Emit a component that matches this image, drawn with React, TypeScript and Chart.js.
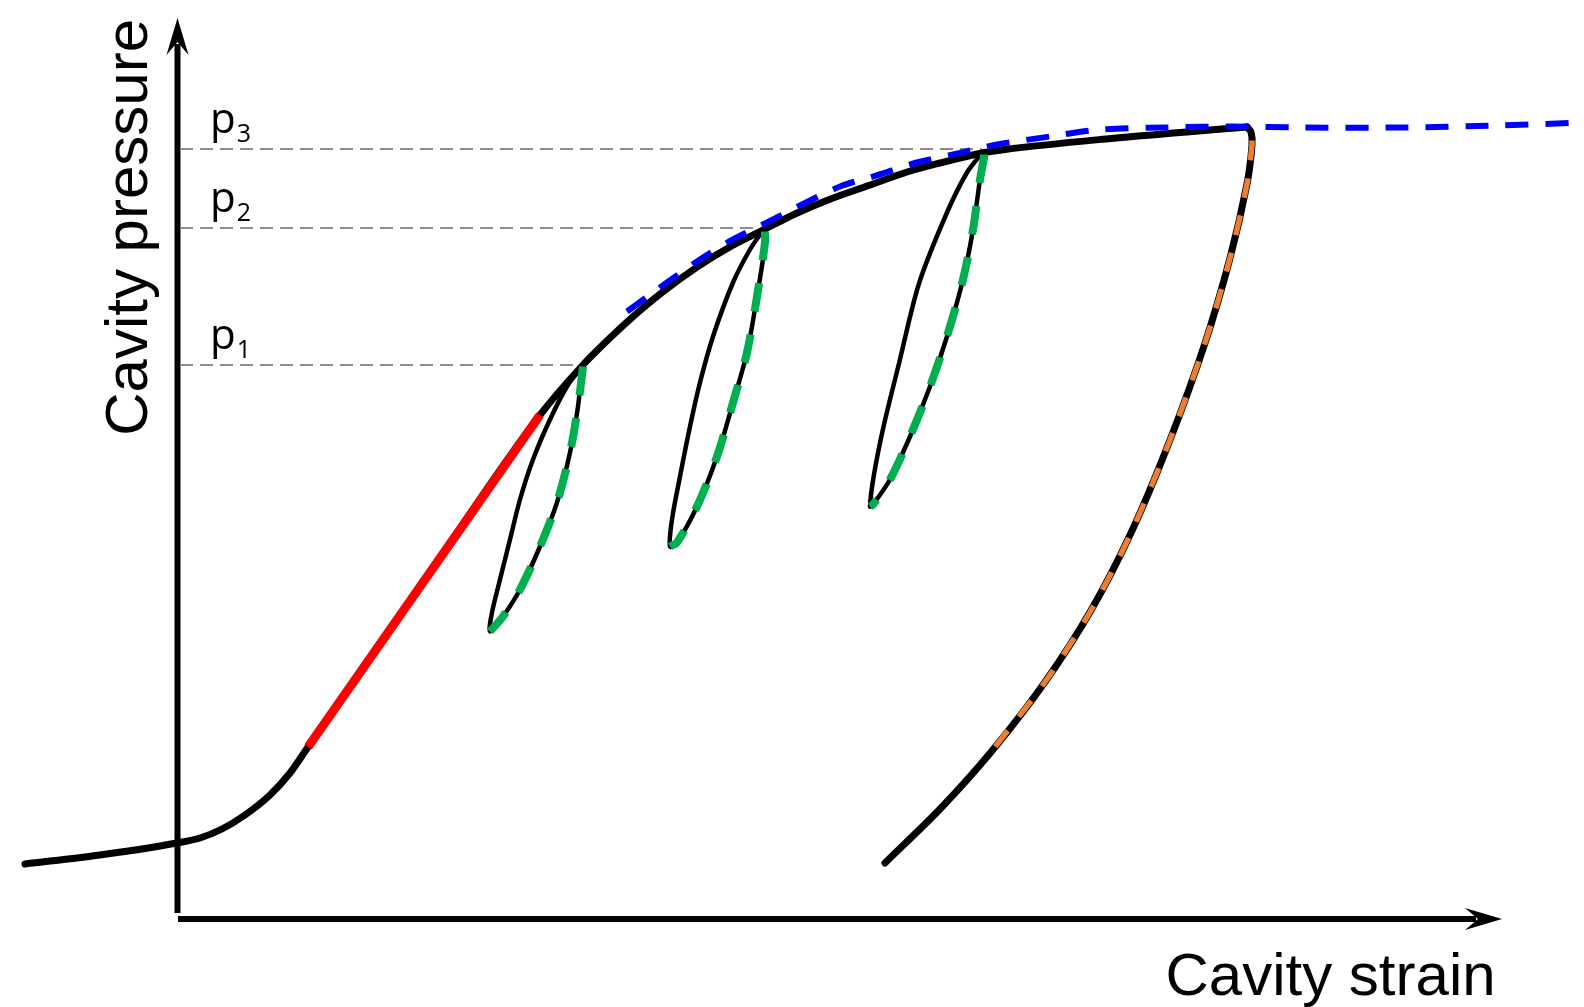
import { useEffect, useRef } from "react";
import { Chart, registerables } from "chart.js";

Chart.register(...registerables);

type Pt = [number, number];

// Cavity strain (x) / cavity pressure (y), arbitrary units
const MAIN_LOADING: Pt[] = [
  [-1.55, 0.525], [-0.8, 0.615], [-0.03, 0.735], [0.2, 0.785], [0.42, 0.875],
  [0.65, 1.015], [0.9, 1.215], [1.1, 1.435], [1.28, 1.695], [2.44, 3.355],
  [3.6, 5.015], [4.02, 5.505], [4.27, 5.757], [4.52, 5.989], [4.82, 6.239],
  [5.17, 6.493], [5.52, 6.707], [5.83, 6.863], [6.15, 7.025], [6.48, 7.165],
  [6.93, 7.325], [7.27, 7.445], [7.6, 7.535], [8.02, 7.635], [8.25, 7.67],
  [9.31, 7.78], [10.67, 7.895],
];

const FINAL_UNLOADING: Pt[] = [
  [10.67, 7.895], [10.71, 7.845], [10.72, 7.715], [10.67, 7.325], [10.495, 6.565],
  [10.247, 5.725], [9.9, 4.765], [9.514, 3.845], [9.112, 3.065], [8.657, 2.355],
  [8.127, 1.665], [7.61, 1.085], [7.05, 0.535],
];

const ELASTIC_FIT: Pt[] = [[1.28, 1.695], [3.6, 5.015]];

const LOOP_1: Pt[] = [
  [4.02, 5.505], [3.98, 5.1], [3.9, 4.64], [3.77, 4.14], [3.6, 3.7],
  [3.4, 3.27], [3.23, 3.0], [3.1, 2.85], [3.12, 3.04], [3.2, 3.37],
  [3.3, 3.77], [3.4, 4.17], [3.53, 4.57], [3.7, 4.97], [3.87, 5.3], [4.02, 5.505],
];
const LOOP_1_FIT: Pt[] = [
  [4.03, 5.5], [3.98, 5.1], [3.9, 4.64], [3.77, 4.14], [3.6, 3.7],
  [3.4, 3.27], [3.23, 3.0], [3.1, 2.85],
];

const LOOP_2: Pt[] = [
  [5.83, 6.863], [5.85, 6.74], [5.77, 6.2], [5.67, 5.64], [5.53, 5.14],
  [5.37, 4.6], [5.17, 4.1], [4.97, 3.74], [4.9, 3.7], [4.92, 3.97],
  [5.0, 4.4], [5.1, 4.9], [5.2, 5.34], [5.33, 5.8], [5.53, 6.34], [5.7, 6.67], [5.83, 6.863],
];
const LOOP_2_FIT: Pt[] = [
  [5.85, 6.85], [5.85, 6.74], [5.77, 6.2], [5.67, 5.64], [5.53, 5.14],
  [5.37, 4.6], [5.17, 4.1], [4.97, 3.74], [4.9, 3.7],
];

const LOOP_3: Pt[] = [
  [8.02, 7.635], [8.04, 7.59], [8.0, 7.37], [7.93, 6.87], [7.83, 6.37],
  [7.67, 5.8], [7.5, 5.3], [7.3, 4.8], [7.1, 4.37], [6.93, 4.12], [6.9, 4.1],
  [6.94, 4.42], [7.04, 4.92], [7.19, 5.53], [7.39, 6.33],
  [7.67, 7.04], [7.87, 7.44], [8.02, 7.635],
];
const LOOP_3_FIT: Pt[] = [
  [8.04, 7.62], [8.04, 7.59], [8.0, 7.37], [7.93, 6.87], [7.83, 6.37],
  [7.67, 5.8], [7.5, 5.3], [7.3, 4.8], [7.1, 4.37], [6.93, 4.12], [6.9, 4.1],
];

const ENVELOPE: Pt[] = [
  [4.47, 6.05], [4.87, 6.34], [5.2, 6.57], [5.53, 6.77], [5.87, 6.94],
  [6.2, 7.11], [6.6, 7.3], [6.93, 7.4], [7.37, 7.54], [7.73, 7.62],
  [8.17, 7.72], [8.7, 7.8], [9.2, 7.87], [9.87, 7.89], [10.53, 7.9],
  [11.2, 7.89], [12.2, 7.89], [13.2, 7.91], [14.04, 7.94],
];

const UNLOADING_FIT: Pt[] = [
  [10.72, 7.76], [10.72, 7.715], [10.67, 7.325], [10.495, 6.565], [10.247, 5.725],
  [9.9, 4.765], [9.514, 3.845], [9.112, 3.065], [8.657, 2.355], [8.127, 1.665],
];

const PRESSURE_LEVELS = [5.515, 6.885, 7.675];
const PRESSURE_LEVEL_ENDS = [4.03, 5.83, 8.02];
const PRESSURE_SUBSCRIPTS = ["1", "2", "3"];
const AXIS_ORIGIN: Pt = [-0.025, -0.025];
const AXIS_TIPS: Pt = [13.22, 8.985];
const X_TITLE = "Cavity strain";
const Y_TITLE = "Cavity pressure";

const toXY = (pts: Pt[]) => pts.map(([x, y]) => ({ x, y }));

const axesPlugin = {
  id: "axesPlugin",
  beforeDatasetsDraw(chart: any) {
    const { ctx } = chart;
    const xs = chart.scales.x;
    const ys = chart.scales.y;
    const ox = xs.getPixelForValue(AXIS_ORIGIN[0]);
    const oy = ys.getPixelForValue(AXIS_ORIGIN[1]);
    const tx = xs.getPixelForValue(AXIS_TIPS[0]);
    const ty = ys.getPixelForValue(AXIS_TIPS[1]);
    ctx.save();
    ctx.strokeStyle = "#000";
    ctx.lineWidth = 6;
    ctx.lineCap = "butt";
    ctx.beginPath();
    ctx.moveTo(ox, oy - 6);
    ctx.lineTo(ox, ty + 26);
    ctx.stroke();
    ctx.beginPath();
    ctx.moveTo(ox + 0.5, oy);
    ctx.lineTo(tx - 26, oy);
    ctx.stroke();
    ctx.restore();
  },
  afterDatasetsDraw(chart: any) {
    const { ctx } = chart;
    const xs = chart.scales.x;
    const ys = chart.scales.y;
    const ox = xs.getPixelForValue(AXIS_ORIGIN[0]);
    const oy = ys.getPixelForValue(AXIS_ORIGIN[1]);
    const tx = xs.getPixelForValue(AXIS_TIPS[0]);
    const ty = ys.getPixelForValue(AXIS_TIPS[1]);
    ctx.save();
    ctx.fillStyle = "#000";
    // x arrow head
    ctx.beginPath();
    ctx.moveTo(tx, oy);
    ctx.lineTo(tx - 37, oy - 11);
    ctx.lineTo(tx - 24, oy);
    ctx.lineTo(tx - 37, oy + 11);
    ctx.closePath();
    ctx.fill();
    // y arrow head
    ctx.beginPath();
    ctx.moveTo(ox, ty);
    ctx.lineTo(ox - 11, ty + 37);
    ctx.lineTo(ox, ty + 24);
    ctx.lineTo(ox + 11, ty + 37);
    ctx.closePath();
    ctx.fill();

    // axis titles
    ctx.font = "60px 'Liberation Sans', Arial, sans-serif";
    ctx.textBaseline = "alphabetic";
    ctx.textAlign = "left";
    ctx.fillText(X_TITLE, ox + 988, oy + 76);
    ctx.save();
    ctx.translate(ox - 30.5, ty + 1);
    ctx.rotate(-Math.PI / 2);
    ctx.textAlign = "right";
    ctx.fillText(Y_TITLE, 0, 0);
    ctx.restore();

    // pressure level labels
    PRESSURE_LEVELS.forEach((lv, i) => {
      const py = ys.getPixelForValue(lv);
      const px = xs.getPixelForValue(0.3);
      ctx.textAlign = "left";
      ctx.font = "42px 'Open Sans', sans-serif";
      ctx.fillText("p", px, py - 16);
      const w = ctx.measureText("p").width;
      ctx.font = "25px 'Open Sans', sans-serif";
      ctx.fillText(PRESSURE_SUBSCRIPTS[i], px + w + 1, py - 7);
    });
    ctx.restore();
  },
};

export default function App() {
  const ref = useRef<HTMLCanvasElement | null>(null);
  useEffect(() => {
    if (!ref.current) return;
    const solid = (data: Pt[], color: string, width: number, order: number) => ({
      data: toXY(data),
      borderColor: color,
      backgroundColor: color,
      borderWidth: width,
      showLine: true,
      pointRadius: 0,
      tension: 0.3,
      borderCapStyle: "round" as const,
      borderJoinStyle: "round" as const,
      clip: false as const,
      order,
    });
    const dashed = (data: Pt[], color: string, width: number, dash: number[], order: number) => ({
      ...solid(data, color, width, order),
      borderDash: dash,
      borderCapStyle: "butt" as const,
    });
    const guides = PRESSURE_LEVELS.map((lv, i) => ({
      ...dashed([[0, lv], [PRESSURE_LEVEL_ENDS[i], lv]], "#8e8e8e", 2, [13, 7], 20),
      tension: 0,
    }));
    const chart = new Chart(ref.current, {
      type: "scatter",
      data: {
        datasets: [
          ...guides,
          solid(LOOP_1, "#000", 4.5, 15),
          solid(LOOP_2, "#000", 4.5, 15),
          solid(LOOP_3, "#000", 4.5, 15),
          { ...solid(MAIN_LOADING, "#000", 7, 12), cubicInterpolationMode: "monotone" },
          solid(FINAL_UNLOADING, "#000", 7, 12),
          { ...solid(ELASTIC_FIT, "#ff0000", 9, 10), borderCapStyle: "butt" as const, tension: 0 },
          dashed(LOOP_1_FIT, "#00b050", 8, [29, 23], 5),
          dashed(LOOP_2_FIT, "#00b050", 8, [29, 23], 5),
          dashed(LOOP_3_FIT, "#00b050", 8, [29, 23], 5),
          dashed(ENVELOPE, "#0000ff", 6, [23, 17], 4),
          dashed(UNLOADING_FIT, "#ed7d31", 5.5, [20, 18], 3),
        ] as any,
      },
      options: {
        responsive: false,
        animation: false,
        events: [],
        devicePixelRatio: 1,
        layout: { padding: 0 },
        plugins: { legend: { display: false }, tooltip: { enabled: false } },
        scales: {
          x: { type: "linear", display: false, min: -1.8, max: 14.04 },
          y: { type: "linear", display: false, min: -0.905, max: 9.165 },
        },
      },
      plugins: [axesPlugin],
    });
    return () => chart.destroy();
  }, []);
  return (
    <canvas
      ref={ref}
      width={1584}
      height={1007}
      style={{ position: "fixed", left: 0, top: 0, display: "block", background: "#fff" }}
    />
  );
}
